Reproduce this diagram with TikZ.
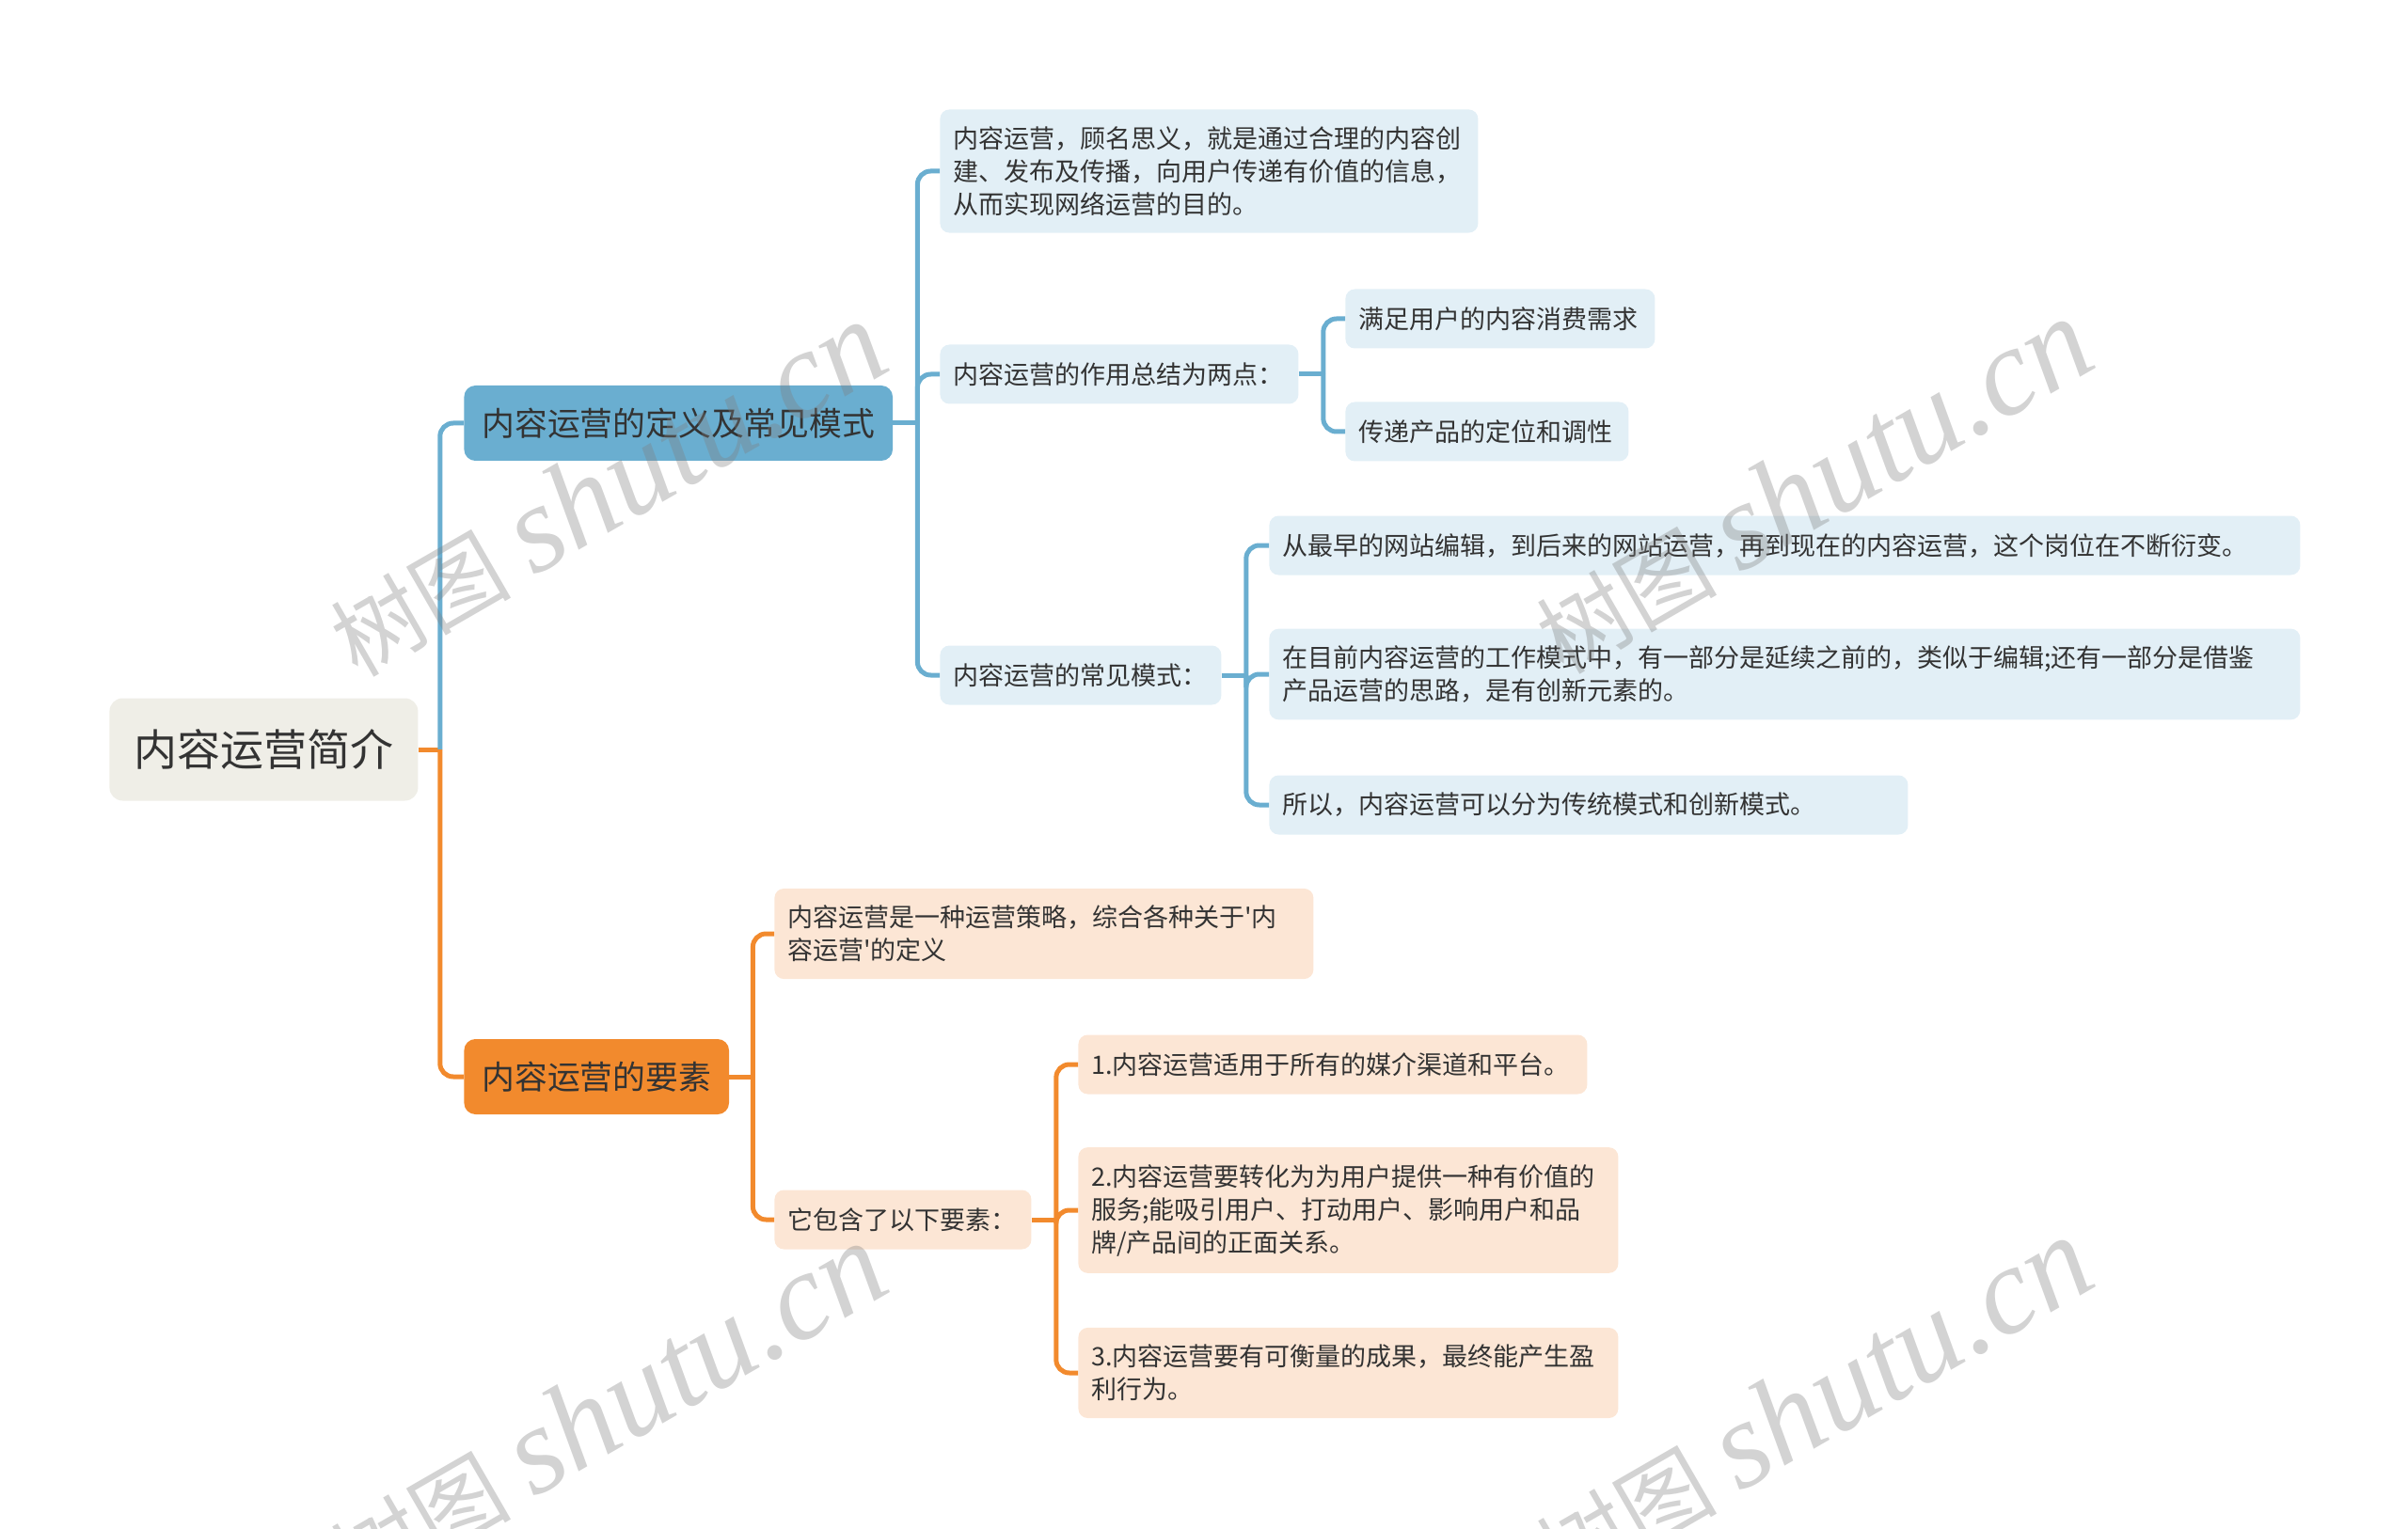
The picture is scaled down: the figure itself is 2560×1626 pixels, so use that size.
\documentclass[tikz,border=0pt]{standalone}
\usepackage{fontspec}
\setmainfont{Noto Sans CJK SC}[Ligatures=TeXOff]
\newfontfamily\wmlatin{Liberation Serif}
\usetikzlibrary{calc}
\definecolor{rootfill}{RGB}{239,238,231}
\definecolor{bluemain}{RGB}{106,174,208}
\definecolor{blueleaf}{RGB}{226,239,246}
\definecolor{orangemain}{RGB}{242,138,45}
\definecolor{orangeleaf}{RGB}{252,230,213}
\definecolor{textdark}{RGB}{51,51,51}
\tikzset{
	rootbox/.style={fill=rootfill, rounded corners=7pt, text=textdark, anchor=west,
		font=\fontsize{23}{28}\selectfont, minimum width=164pt, minimum height=54.5pt},
	mainbox/.style={rounded corners=6pt, text=textdark, anchor=west,
		font=\fontsize{17.4}{21}\selectfont, inner xsep=9.5pt, minimum height=40pt},
	leafbox/.style={rounded corners=5pt, text=textdark, anchor=west, align=left,
		font=\fontsize{13.5}{17.5}\selectfont, inner xsep=7pt, inner ysep=9pt, minimum height=31.5pt},
	bluelink/.style={draw=bluemain, line width=2.5pt, rounded corners=7pt},
	orangelink/.style={draw=orangemain, line width=2.5pt, rounded corners=7pt},
	watermark/.style={text=gray, opacity=0.35, rotate=30}
}
\begin{document}
\begin{tikzpicture}[x=0.5pt, y=-0.5pt]
	\useasboundingbox (0,0) rectangle (2560,1626);
	\node[rootbox] (root) at (116,797) {内容运营简介};
	% blue branch
	\node[mainbox, fill=bluemain] (dingyi) at (493,450) {内容运营的定义及常见模式};
	\node[leafbox, fill=blueleaf, text width=272pt] (hanyi) at (999,182) {内容运营，顾名思义，就是通过合理的内容创\\建、发布及传播，向用户传递有价值的信息，\\从而实现网络运营的目的。};
	\node[leafbox, fill=blueleaf, text width=176.5pt] (zuoyong) at (999,398) {内容运营的作用总结为两点：};
	\node[leafbox, fill=blueleaf, text width=150.5pt] (xuqiu) at (1430,339) {满足用户的内容消费需求};
	\node[leafbox, fill=blueleaf, text width=136.5pt] (tiaoxing) at (1430,459) {传递产品的定位和调性};
	\node[leafbox, fill=blueleaf, text width=135.5pt] (moshi) at (999,718) {内容运营的常见模式：};
	\node[leafbox, fill=blueleaf, text width=534pt] (yanbian) at (1349,580) {从最早的网站编辑，到后来的网站运营，再到现在的内容运营，这个岗位在不断衍变。};
	\node[leafbox, fill=blueleaf, text width=534pt] (chuangxin) at (1349,717) {在目前内容运营的工作模式中，有一部分是延续之前的，类似于编辑;还有一部分是借鉴\\产品运营的思路，是有创新元素的。};
	\node[leafbox, fill=blueleaf, text width=325.5pt] (fenlei) at (1349,856) {所以，内容运营可以分为传统模式和创新模式。};
	% orange branch
	\node[mainbox, fill=orangemain] (yaosu) at (493,1145) {内容运营的要素};
	\node[leafbox, fill=orangeleaf, text width=272.5pt] (celue) at (823,993) {内容运营是一种运营策略，综合各种关于'内\\容运营'的定义};
	\node[leafbox, fill=orangeleaf, text width=122.5pt] (baohan) at (823,1297) {它包含了以下要素：};
	\node[leafbox, fill=orangeleaf, text width=256.5pt] (yao1) at (1146,1132) {1.内容运营适用于所有的媒介渠道和平台。};
	\node[leafbox, fill=orangeleaf, text width=273pt] (yao2) at (1146,1287) {2.内容运营要转化为为用户提供一种有价值的\\服务;能吸引用户、打动用户、影响用户和品\\牌/产品间的正面关系。};
	\node[leafbox, fill=orangeleaf, text width=273pt] (yao3) at (1146,1460) {3.内容运营要有可衡量的成果，最终能产生盈\\利行为。};
	% connectors
	\coordinate (t0) at ($(root.east)+(23,0)$);
	\coordinate (t1) at ($(dingyi.east)+(26,0)$);
	\coordinate (t2) at ($(zuoyong.east)+(26,0)$);
	\coordinate (t3) at ($(moshi.east)+(26,0)$);
	\coordinate (t4) at ($(yaosu.east)+(25,0)$);
	\coordinate (t5) at ($(baohan.east)+(26,0)$);
	\draw[orangelink] (root.east) -- (t0);
	\draw[bluelink] (t0) |- (dingyi.west);
	\draw[orangelink] (t0) |- (yaosu.west);
	\draw[bluelink] (dingyi.east) -- (t1);
	\foreach \k in {hanyi,zuoyong,moshi}
		\draw[bluelink] (t1) |- (\k.west);
	\draw[bluelink] (zuoyong.east) -- (t2);
	\foreach \k in {xuqiu,tiaoxing}
		\draw[bluelink] (t2) |- (\k.west);
	\draw[bluelink] (moshi.east) -- (t3);
	\foreach \k in {yanbian,chuangxin,fenlei}
		\draw[bluelink] (t3) |- (\k.west);
	\draw[orangelink] (yaosu.east) -- (t4);
	\foreach \k in {celue,baohan}
		\draw[orangelink] (t4) |- (\k.west);
	\draw[orangelink] (baohan.east) -- (t5);
	\foreach \k in {yao1,yao2,yao3}
		\draw[orangelink] (t5) |- (\k.west);
	% watermarks
	\foreach \p/\n in {{(645,520)}/wma, {(1927,517)}/wmb, {(645,1500)}/wmc, {(1927,1494)}/wmd}
		\node[watermark] (\n) at \p {{\fontsize{48}{48}\selectfont 树图}\hspace{12pt}{\wmlatin\itshape\fontsize{66}{66}\selectfont shutu.cn}};
\end{tikzpicture}
\end{document}
